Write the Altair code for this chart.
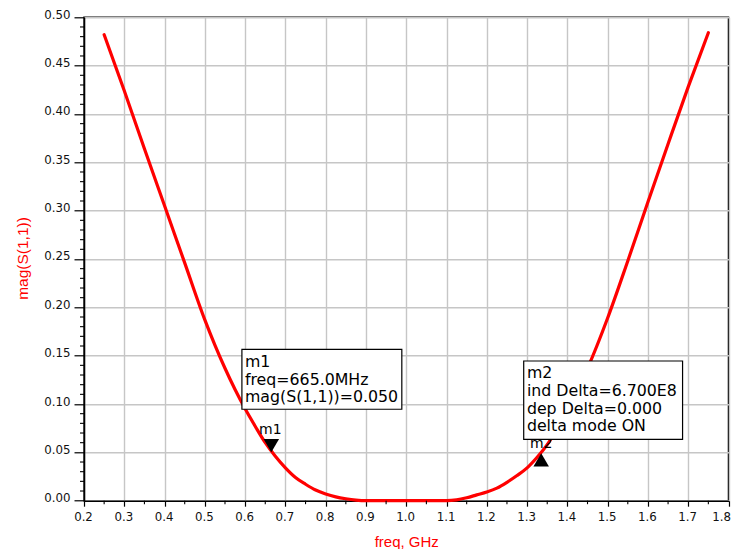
import altair as alt
import pandas as pd

# ---------------- data ----------------
freq_ghz = [0.25, 0.30, 0.35, 0.40, 0.45, 0.50, 0.525, 0.55, 0.575, 0.60, 0.625, 0.65, 0.675,
            0.70, 0.725, 0.75, 0.775, 0.80, 0.825, 0.85, 0.875, 0.90, 0.95, 1.00, 1.05,
            1.10, 1.125, 1.15, 1.175, 1.20, 1.225, 1.25, 1.275, 1.30, 1.325, 1.35, 1.375,
            1.40, 1.425, 1.45, 1.50, 1.55, 1.60, 1.65, 1.70, 1.75]
mag_s11 = [0.482, 0.424, 0.364, 0.305, 0.246, 0.187, 0.161, 0.137, 0.115, 0.095, 0.077, 0.060, 0.046,
           0.034, 0.024, 0.017, 0.011, 0.007, 0.004, 0.002, 0.0006, 0.000, 0.000, 0.000, 0.000,
           0.000, 0.0008, 0.003, 0.006, 0.009, 0.013, 0.019, 0.026, 0.034, 0.045, 0.058, 0.075,
           0.095, 0.115, 0.137, 0.189, 0.248, 0.309, 0.369, 0.428, 0.484]

marker_names = ["m1", "m2"]
marker_freq = [0.665, 1.335]
marker_mag = [0.050, 0.050]

box1_lines = ["m1", "freq=665.0MHz", "mag(S(1,1))=0.050"]
box2_lines = ["m2", "ind Delta=6.700E8", "dep Delta=0.000", "delta mode ON"]

x_ticks = [0.2, 0.3, 0.4, 0.5, 0.6, 0.7, 0.8, 0.9, 1.0, 1.1, 1.2, 1.3, 1.4, 1.5, 1.6, 1.7, 1.8]
y_ticks = [0.00, 0.05, 0.10, 0.15, 0.20, 0.25, 0.30, 0.35, 0.40, 0.45, 0.50]
x_minor = [round(v + 0.05, 2) for v in x_ticks[:-1]]
y_minor = [round(i / 100, 2) for i in range(51) if i % 5 != 0]

# ---------------- annotation placement (data coordinates) ----------------
box1 = dict(x=0.592, x2=0.989, y=0.0946, y2=0.1566)
box2 = dict(x=1.2916, x2=1.686, y=0.0635, y2=0.1445)
box1_text_x = 0.5995
box1_text_y = [0.1438, 0.1249, 0.1070]
box2_text_x = 1.2995
box2_text_y = [0.1324, 0.1138, 0.0952, 0.0773]

W, H = 644.5, 483.4
FONT = "DejaVu Sans"
TFONT = "Liberation Sans"

xs = alt.Scale(domain=[0.2, 1.8], nice=False, zero=False)
ys = alt.Scale(domain=[0.0, 0.5], nice=False, zero=False)

curve = pd.DataFrame({"freq": freq_ghz, "mag": mag_s11})
markers = pd.DataFrame({"name": marker_names, "freq": marker_freq, "mag": marker_mag})

x_axis = alt.Axis(
    values=x_ticks, format=".1f", title="freq, GHz", grid=True,
    gridColor="#c6c6c6", gridWidth=1.4, domainColor="black", domainWidth=1.5,
    tickColor="black", tickSize=5.5, tickWidth=1.2, labelFont=FONT, labelFontSize=11.8,
    labelColor="#111", labelPadding=5, labelFlush=False,
    labelAlign=alt.expr("datum.value >= 1.79 ? 'right' : 'center'"),
    labelOffset=alt.expr("datum.value >= 1.79 ? 2 : -1"),
    titleFont=TFONT, titleFontSize=15, titleFontWeight="normal", titleColor="#ff0000",
    titleY=41, titleBaseline="middle")
y_axis = alt.Axis(
    values=y_ticks, format=".2f", title="mag(S(1,1))", grid=True,
    gridColor="#c6c6c6", gridWidth=1.4, domainColor="black", domainWidth=1.5,
    tickColor="black", tickSize=10, tickWidth=1.2, labelFont=FONT, labelFontSize=11.8,
    labelColor="#111", labelPadding=4, labelOffset=-3, labelFlush=False,
    titleFont=TFONT, titleFontSize=15.5, titleFontWeight="normal", titleColor="#ff0000",
    titleX=-62, titleY=H / 2 - 1, titleBaseline="middle", titleAngle=-90)


def X(field):
    return alt.X(field, scale=xs, axis=x_axis)


def Y(field):
    return alt.Y(field, scale=ys, axis=y_axis)


line = alt.Chart(curve).mark_line(color="#ff0000", strokeWidth=3.2, interpolate="monotone",
                                  strokeCap="round", strokeJoin="round").encode(
    x=X("freq:Q"), y=Y("mag:Q"))

ymin_df = pd.DataFrame({"freq": [1.0] * len(y_minor), "mag": y_minor})
xmin_df = pd.DataFrame({"freq": x_minor, "mag": [0.0] * len(x_minor)})
y_minor_ticks = alt.Chart(ymin_df).mark_rule(color="black", strokeWidth=1.1).encode(
    y=Y("mag:Q"), x=alt.value(-4), x2=alt.value(0))
x_minor_ticks = alt.Chart(xmin_df).mark_rule(color="black", strokeWidth=1.1).encode(
    x=X("freq:Q"), y=alt.value(H), y2=alt.value(H + 3.5))

m1 = markers[markers.name == "m1"]
m2 = markers[markers.name == "m2"]
tri1 = alt.Chart(m1).mark_point(shape="triangle-down", filled=True, color="black",
                                opacity=1, size=240, yOffset=-6.7).encode(
    x=X("freq:Q"), y=Y("mag:Q"))
tri2 = alt.Chart(m2).mark_point(shape="triangle-up", filled=True, color="black",
                                opacity=1, size=240, yOffset=7.5).encode(
    x=X("freq:Q"), y=Y("mag:Q"))
lab1 = alt.Chart(m1).mark_text(font=FONT, fontSize=14, color="black", dy=-22, dx=-1,
                               baseline="middle").encode(
    x=X("freq:Q"), y=Y("mag:Q"), text="name:N")
lab2 = alt.Chart(m2).mark_text(font=FONT, fontSize=14, color="black", dy=-8.5,
                               baseline="middle").encode(
    x=X("freq:Q"), y=Y("mag:Q"), text="name:N")

boxes_df = pd.DataFrame({
    "freq": [box1["x"], box2["x"]], "freq2": [box1["x2"], box2["x2"]],
    "mag": [box1["y"], box2["y"]], "mag2": [box1["y2"], box2["y2"]],
})
boxes = alt.Chart(boxes_df).mark_rect(fill="white", stroke="black", strokeWidth=1.2).encode(
    x=X("freq:Q"), x2="freq2:Q", y=Y("mag:Q"), y2="mag2:Q")

txt_df = pd.DataFrame({
    "text": box1_lines + box2_lines,
    "freq": [box1_text_x] * len(box1_lines) + [box2_text_x] * len(box2_lines),
    "mag": box1_text_y + box2_text_y,
})
box_text = alt.Chart(txt_df).mark_text(font=FONT, fontSize=15.8, color="black",
                                       align="left", baseline="middle").encode(
    x=X("freq:Q"), y=Y("mag:Q"), text="text:N")

chart = alt.layer(
    line, y_minor_ticks, x_minor_ticks, tri1, tri2, lab1, lab2, boxes, box_text
).properties(
    width=W, height=H,
    padding={"left": 76, "top": 9.3, "right": 2.5, "bottom": 48},
    autosize=alt.AutoSizeParams(type="none"),
    background="white",
).configure_view(stroke="black", strokeWidth=1.5)

chart.save("out.html", embed_options={"renderer": "svg", "actions": False})
